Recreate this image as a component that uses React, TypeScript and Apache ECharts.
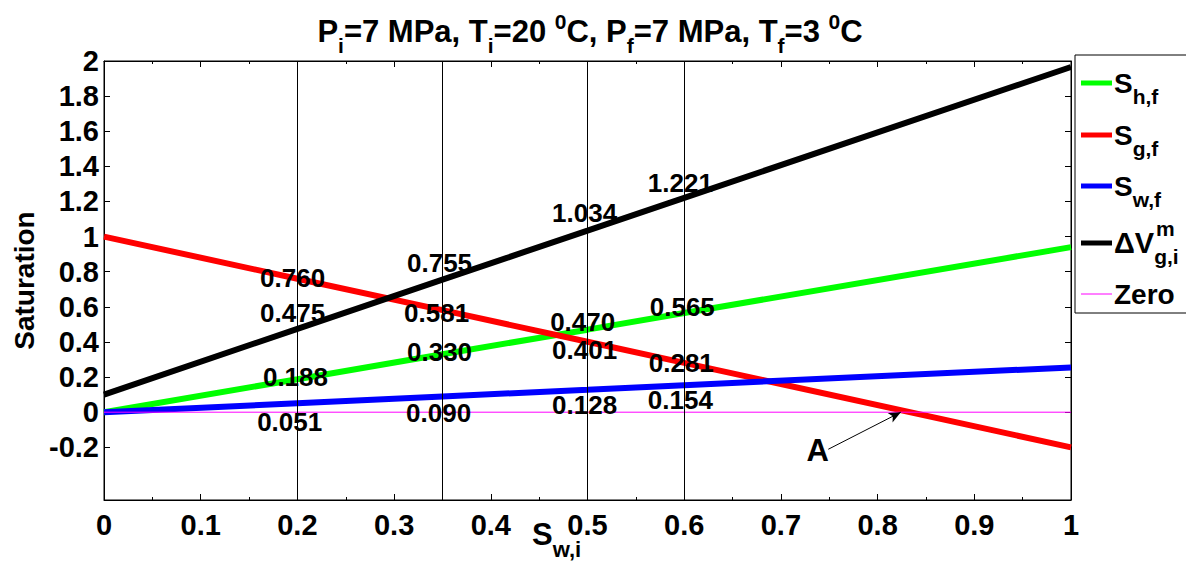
import React, { useEffect, useRef } from "react";
import * as echarts from "echarts";

// ---- data ----
const xVals = [0, 0.2, 0.35, 0.5, 0.6, 1];
const shf = [0, 0.188, 0.33, 0.47, 0.565, 0.94];
const sgf = [1, 0.76, 0.581, 0.401, 0.281, -0.2];
const swf = [0, 0.051, 0.09, 0.128, 0.154, 0.255];
const dvg = [0.1, 0.475, 0.755, 1.034, 1.221, 1.966];
const zeroX = [0, 1];
const zeroY = [0, 0];
const guideX = [0.2, 0.35, 0.5, 0.6];
const yTicks = [-0.2, 0, 0.2, 0.4, 0.6, 0.8, 1, 1.2, 1.4, 1.6, 1.8, 2];
// annotation labels: text, x, y (data coords of label centre)
const annText = ["0.760", "0.475", "0.188", "0.051", "0.755", "0.581", "0.330", "0.090", "1.034", "0.470", "0.401", "0.128", "1.221", "0.565", "0.281", "0.154"];
const annX = [0.195, 0.195, 0.198, 0.192, 0.347, 0.344, 0.347, 0.346, 0.497, 0.495, 0.497, 0.497, 0.596, 0.598, 0.597, 0.596];
const annY = [0.763, 0.564, 0.199, -0.057, 0.849, 0.564, 0.342, -0.006, 1.133, 0.515, 0.352, 0.04, 1.304, 0.598, 0.279, 0.068];
const arrowFrom = [0.749, -0.211];
const arrowTo = [0.824, 0];
const pointA = [0.738, -0.217];

const FONT = "'Liberation Sans', Arial, Helvetica, sans-serif";

export default function App() {
  const ref = useRef<HTMLDivElement>(null);
  useEffect(() => {
    const chart = echarts.init(ref.current!, undefined, { renderer: "svg" });
    const pts = (ys: number[]) => xVals.map((x, i) => [x, ys[i]]);
    const lineSeries = (name: string, ys: number[], color: string, width: number) => ({
      name,
      type: "line",
      data: pts(ys),
      showSymbol: false,
      symbol: "none",
      lineStyle: { color, width },
      itemStyle: { color },
      silent: true,
    });
    const mk = (size: number, pad: number[]) => ({ fontSize: size, fontWeight: "bold", fontFamily: FONT, color: "#000", padding: pad });
    const big = { fontSize: 28, fontWeight: "bold", fontFamily: FONT, color: "#000" };
    const legendItems = [
      { color: "#00ff00", y: 83, text: "{s|S}{sub|h,f}", w: 5 },
      { color: "#ff0000", y: 135, text: "{s|S}{sub|g,f}", w: 5 },
      { color: "#0000ff", y: 186, text: "{s|S}{sub|w,f}", w: 5 },
      { color: "#000000", y: 243, text: "{v|ΔV}{sub|g,i}", w: 5 },
      { color: "#ff00ff", y: 294, text: "{z|Zero}", w: 1 },
    ];
    const legendEls: any[] = [
      { type: "rect", shape: { x: 1075, y: 55, width: 120, height: 258 }, style: { fill: "#fff", stroke: "#000", lineWidth: 1 }, z: 10 },
    ];
    legendItems.forEach((it) => {
      legendEls.push({ type: "line", shape: { x1: 1081, y1: it.y, x2: 1112, y2: it.y }, style: { stroke: it.color, lineWidth: it.w }, z: 11 });
      legendEls.push({
        type: "text",
        x: 1114,
        y: it.y,
        style: {
          text: it.text,
          verticalAlign: "middle",
          align: "left",
          rich: {
            s: big,
            v: { fontSize: 29, fontWeight: "bold", fontFamily: FONT, color: "#000" },
            sub: mk(21, [26, 0, 0, 0]),
            z: { fontSize: 28, fontWeight: "bold", fontFamily: FONT, color: "#000" },
          },
        },
        z: 11,
      });
    });
    legendEls.push({ type: "text", x: 1156, y: 228, style: { text: "m", font: `bold 21px ${FONT}`, fill: "#000", verticalAlign: "middle" }, z: 12 });

    const axisFont = { color: "#000", fontSize: 29, fontWeight: "bold", fontFamily: FONT };
    const fmt = (v: number) => String(Math.round(v * 10) / 10);

    chart.setOption({
      animation: false,
      backgroundColor: "#fff",
      grid: { left: 104, right: 115, top: 61, bottom: 62, show: true, borderColor: "#000", borderWidth: 1, containLabel: false, outerBoundsMode: "none" },
      xAxis: [
        {
          type: "value", min: 0, max: 1, interval: 0.1,
          axisLine: { onZero: false, lineStyle: { color: "#000" } },
          axisTick: { inside: true, length: 6, lineStyle: { color: "#000" } },
          minorTick: { show: true, splitNumber: 2, length: 3, lineStyle: { color: "#000" } },
          splitLine: { show: false },
          axisLabel: { ...axisFont, margin: 10, formatter: fmt },
        },
        {
          type: "value", min: 0, max: 1, interval: 0.1, position: "top",
          axisLine: { onZero: false, lineStyle: { color: "#000" } },
          axisTick: { inside: true, length: 6, lineStyle: { color: "#000" } },
          minorTick: { show: true, splitNumber: 2, length: 3, lineStyle: { color: "#000" } },
          splitLine: { show: false }, axisLabel: { show: false },
        },
      ],
      yAxis: [
        {
          type: "value", min: -0.5, max: 2,
          name: "Saturation", nameLocation: "middle", nameGap: 64,
          nameTextStyle: { color: "#000", fontSize: 28, fontWeight: "bold", fontFamily: FONT },
          axisLine: { onZero: false, lineStyle: { color: "#000" } },
          axisTick: { inside: true, length: 6, customValues: yTicks, lineStyle: { color: "#000" } },
          splitLine: { show: false },
          axisLabel: { ...axisFont, margin: 5, customValues: yTicks, formatter: fmt },
        },
        {
          type: "value", min: -0.5, max: 2, position: "right",
          axisLine: { onZero: false, lineStyle: { color: "#000" } },
          axisTick: { inside: true, length: 6, customValues: yTicks, lineStyle: { color: "#000" } },
          splitLine: { show: false }, axisLabel: { show: false },
        },
      ],
      series: [
        lineSeries("Sh,f", shf, "#00ff00", 6),
        lineSeries("Sg,f", sgf, "#ff0000", 6),
        lineSeries("Sw,f", swf, "#0000ff", 6),
        lineSeries("ΔVg,i", dvg, "#000000", 6),
        {
          name: "Zero",
          type: "line",
          data: zeroX.map((x, i) => [x, zeroY[i]]),
          symbol: "none",
          lineStyle: { color: "#ff00ff", width: 1 },
          silent: true,
          markLine: {
            silent: true,
            symbol: ["none", "none"],
            label: { show: false },
            lineStyle: { color: "#000", width: 1, type: "solid" },
            data: guideX.map((x) => ({ xAxis: x })),
          },
        },
        {
          name: "arrow",
          type: "line",
          data: [],
          markLine: {
            silent: true,
            symbol: ["none", "arrow"],
            symbolSize: [8, 12],
            label: { show: false },
            lineStyle: { color: "#000", width: 1, type: "solid" },
            data: [[{ coord: arrowFrom }, { coord: arrowTo }]],
          },
        },
        {
          name: "labels",
          type: "scatter",
          symbolSize: 0,
          itemStyle: { color: "#000", opacity: 1 },
          z: 10,
          silent: true,
          data: annText.map((t, i) => ({ name: t, value: [annX[i], annY[i]] })).concat([{ name: "A", value: pointA }]),
          label: {
            show: true,
            position: [0, 0],
            align: "center",
            verticalAlign: "middle",
            formatter: (p: any) => (p.name === "A" ? `{a|A}` : p.name),
            color: "#000",
            textBorderWidth: 0,
            fontSize: 26,
            fontWeight: "bold",
            fontFamily: FONT,
            rich: { a: { fontSize: 31, fontWeight: "bold", fontFamily: FONT, color: "#000" } },
          },
        },
      ],
      graphic: [
        {
          type: "text",
          x: 590,
          y: 31,
          style: {
            text: "{t|P}{sub|i}{t|=7 MPa, T}{sub|i}{t|=20 }{sup|0}{t|C, P}{sub|f}{t|=7 MPa, T}{sub|f}{t|=3 }{sup|0}{t|C}",
            align: "center",
            verticalAlign: "middle",
            rich: {
              t: { fontSize: 31, fontWeight: "bold", fontFamily: FONT, color: "#000" },
              sub: mk(21, [28, 0, 0, 0]),
              sup: mk(21, [0, 0, 20, 0]),
            },
          },
        },
        {
          type: "text",
          x: 532,
          y: 534,
          style: {
            text: "{s|S}{sub|w,i}",
            verticalAlign: "middle",
            rich: { s: { fontSize: 31, fontWeight: "bold", fontFamily: FONT, color: "#000" }, sub: mk(22, [30, 0, 0, 0]) },
          },
        },
        ...legendEls,
      ],
    });
    return () => chart.dispose();
  }, []);
  return <div ref={ref} style={{ width: 1186, height: 562, position: "absolute", left: 0, top: 0 }} />;
}
